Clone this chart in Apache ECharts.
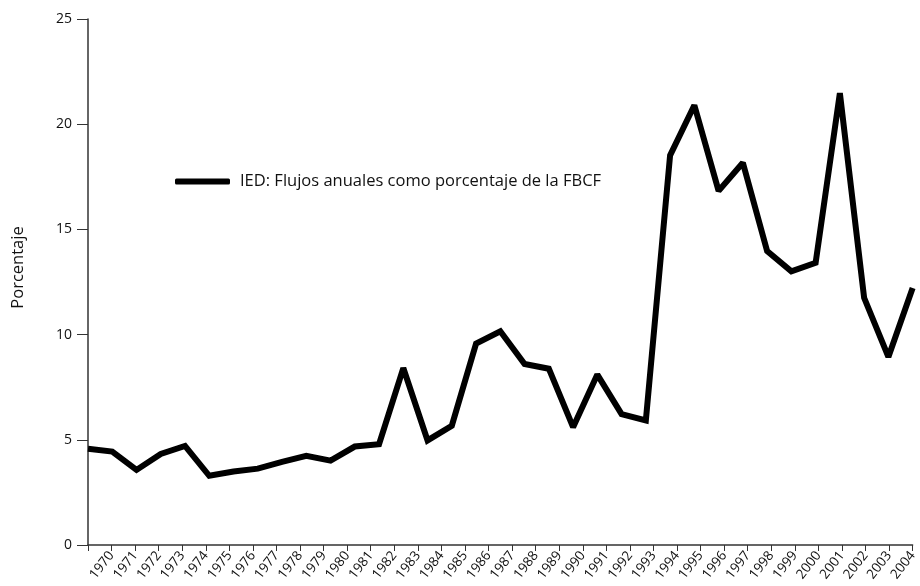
<!DOCTYPE html>
<html>
<head>
<meta charset="utf-8">
<script src="https://cdn.jsdelivr.net/npm/echarts@6/dist/echarts.min.js"></script>
<style>
html,body{margin:0;padding:0;background:#fff;}
#c{width:920px;height:586px;}
</style>
</head>
<body>
<div id="c"></div>
<script>
var years = ["1970","1971","1972","1973","1974","1975","1976","1977","1978","1979","1980","1981","1982","1983","1984","1985","1986","1987","1988","1989","1990","1991","1992","1993","1994","1995","1996","1997","1998","1999","2000","2001","2002","2003","2004"];
var values = [4.57,4.44,3.57,4.33,4.71,3.29,3.49,3.63,3.95,4.24,4.01,4.68,4.79,8.41,4.97,5.67,9.57,10.16,8.6,8.38,5.6,8.1,6.22,5.92,18.52,20.9,16.83,18.17,13.97,13.01,13.41,21.48,11.75,8.94,12.22];
var seriesName = "IED: Flujos anuales como porcentaje de la FBCF";
var yTitle = "Porcentaje";
var yMin = 0, yMax = 25, yStep = 5;
var tickYearMin = 1969, tickYearMax = 2004;

var FONT = "Open Sans";
var chart = echarts.init(document.getElementById('c'), null, {renderer:'canvas'});
var tickStyle = {color: '#333', width: 1};
chart.setOption({
  animation: false,
  backgroundColor: '#ffffff',
  textStyle: {fontFamily: FONT},
  grid: {left: 88, right: 5, top: 19, bottom: 41, containLabel: false},
  legend: {
    show: true,
    left: 170, top: 168,
    icon: 'roundRect',
    itemWidth: 55, itemHeight: 6,
    itemStyle: {borderWidth: 0},
    textStyle: {fontFamily: FONT, fontSize: 16.5, color: '#111', padding: [0, 0, 0, 5]},
    data: [seriesName]
  },
  xAxis: [
    {
      type: 'category', data: years, boundaryGap: false, show: false
    },
    {
      type: 'value', min: tickYearMin, max: tickYearMax, interval: 1,
      position: 'bottom',
      axisLine: {show: true, onZero: false, lineStyle: {color: '#333', width: 1.5}},
      axisTick: {show: true, inside: false, length: 6, lineStyle: tickStyle},
      splitLine: {show: false},
      axisLabel: {
        show: true, rotate: 52, margin: 8, fontSize: 13.5, color: '#111', fontFamily: FONT,
        formatter: function(v){ return v === tickYearMin ? '' : String(v); }
      }
    }
  ],
  yAxis: [
    {
      type: 'value', min: yMin, max: yMax, interval: yStep,
      name: yTitle, nameLocation: 'middle', nameGap: 61, nameRotate: 90,
      nameTextStyle: {fontSize: 16.5, color: '#111', fontFamily: FONT, padding: [0, 0, 0, 29]},
      axisLine: {show: true, onZero: false, lineStyle: {color: '#333', width: 1.5}},
      axisTick: {show: true, inside: false, length: 11, lineStyle: tickStyle},
      splitLine: {show: false},
      axisLabel: {margin: 16, fontSize: 14, color: '#111', fontFamily: FONT}
    }
  ],
  series: [{
    name: seriesName,
    type: 'line',
    xAxisIndex: 0, yAxisIndex: 0,
    data: values,
    symbol: 'none',
    showSymbol: false,
    itemStyle: {color: '#000'},
    lineStyle: {color: '#000', width: 6, join: 'miter', miterLimit: 2}
  }]
});
</script>
</body>
</html>
